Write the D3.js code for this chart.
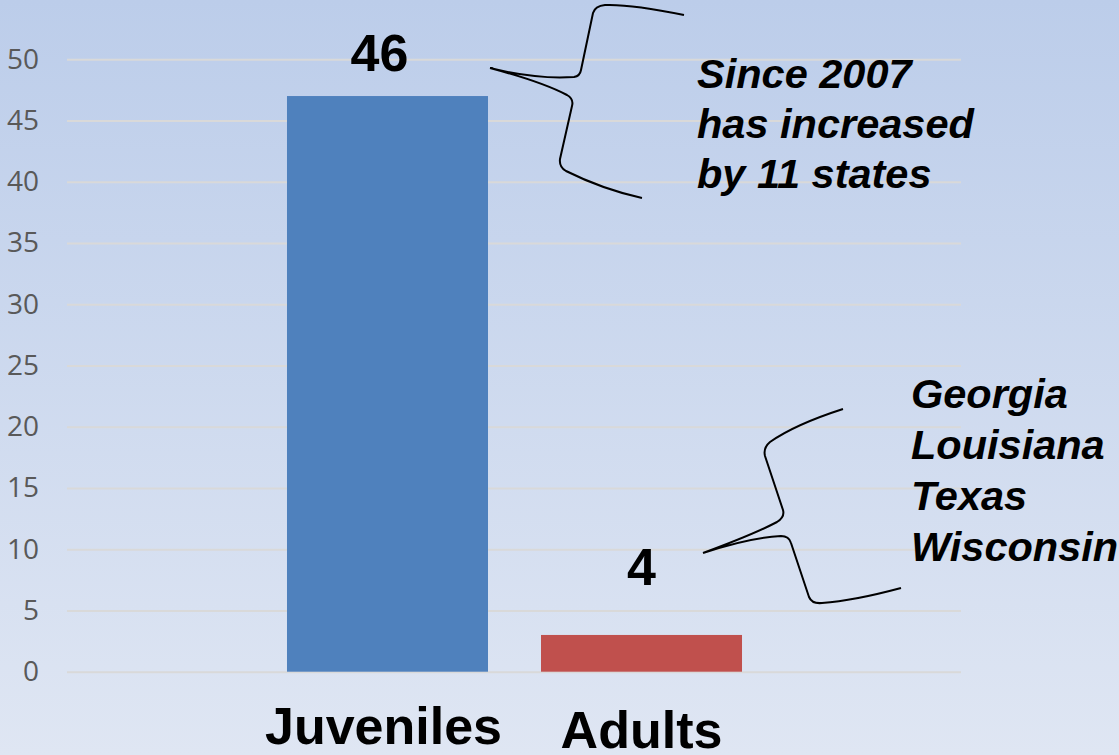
<!DOCTYPE html>
<html>
<head>
<meta charset="utf-8">
<script src="https://cdn.jsdelivr.net/npm/d3@7"></script>
<style>
  html, body { margin: 0; padding: 0; }
  body { width: 1119px; height: 755px; overflow: hidden; }
</style>
</head>
<body>
<div id="chart"></div>
<script>
// data
const categories = ["Juveniles", "Adults"];
const barValues = [47, 3];
const valueLabels = ["46", "4"];
const barColors = ["#4f81bd", "#c0504d"];
const yTicks = [0, 5, 10, 15, 20, 25, 30, 35, 40, 45, 50];
const noteTop = ["Since 2007", "has increased", "by 11 states"];
const noteBottom = ["Georgia", "Louisiana", "Texas", "Wisconsin"];

const width = 1119;
const height = 755;
const gridLeft = 67;
const gridRight = 961;
const textFont = "'Liberation Sans', Arial, sans-serif";

const svg = d3.select("#chart")
    .append("svg")
    .attr("width", width)
    .attr("height", height);

// background gradient
const grad = svg.append("defs").append("linearGradient")
    .attr("id", "bg")
    .attr("x1", 0).attr("y1", 0)
    .attr("x2", 0).attr("y2", 1);
grad.append("stop").attr("offset", "0%").attr("stop-color", "#bccdea");
grad.append("stop").attr("offset", "100%").attr("stop-color", "#dfe6f3");

svg.append("rect")
    .attr("width", width)
    .attr("height", height)
    .attr("fill", "url(#bg)");

const y = d3.scaleLinear()
    .domain([0, 50])
    .range([671.7, 59.3]);

const x = d3.scaleBand()
    .domain(categories)
    .range([260.5, 768.5])
    .paddingInner(0.2087)
    .paddingOuter(0.1043);

// axis + gridlines
const yAxis = d3.axisLeft(y)
    .tickValues(yTicks)
    .tickSize(-(gridRight - gridLeft))
    .tickPadding(28);

const axisG = svg.append("g")
    .attr("transform", `translate(${gridLeft},0)`)
    .call(yAxis);

axisG.select(".domain").remove();
axisG.selectAll(".tick line")
    .attr("stroke", "#d9d9d9")
    .attr("stroke-width", 2);
axisG.selectAll(".tick text")
    .attr("fill", "#595959")
    .style("font-family", "'Open Sans', sans-serif")
    .style("font-size", "28px");

// bars
svg.selectAll("rect.bar")
    .data(categories)
    .enter()
    .append("rect")
    .attr("class", "bar")
    .attr("x", d => x(d))
    .attr("y", (d, i) => y(barValues[i]))
    .attr("width", x.bandwidth())
    .attr("height", (d, i) => y(0) - y(barValues[i]))
    .attr("fill", (d, i) => barColors[i]);

// value labels above bars
svg.selectAll("text.value")
    .data(categories)
    .enter()
    .append("text")
    .attr("class", "value")
    .attr("x", (d, i) => x(d) + x.bandwidth() / 2 + (i === 0 ? -8 : 0))
    .attr("y", (d, i) => y(barValues[i]) - (i === 0 ? 25.5 : 50))
    .attr("text-anchor", "middle")
    .style("font-family", textFont)
    .style("font-weight", "bold")
    .style("font-size", "52px")
    .attr("fill", "#000")
    .text((d, i) => valueLabels[i]);

// category labels
svg.selectAll("text.cat")
    .data(categories)
    .enter()
    .append("text")
    .attr("class", "cat")
    .attr("x", (d, i) => x(d) + x.bandwidth() / 2 + (i === 0 ? -4 : 0))
    .attr("y", (d, i) => i === 0 ? 744 : 748)
    .attr("text-anchor", "middle")
    .style("font-family", textFont)
    .style("font-weight", "bold")
    .style("font-size", "52px")
    .attr("fill", "#000")
    .text(d => d);

// curly braces
const braces = [
    "M490,68 C530,78 560,78 574,77 Q580,76 581,70 L593,13 Q595,6 605,5 C630,4 660,10 684,15" +
    "M490,68 C520,76 550,86 567,95 Q574,99 572,106 L560,159 Q559,167 566,171 C590,183 615,192 642,198",
    "M703,553 C730,543 760,531 777,522 Q785,517 783,510 L765,456 Q763,448 770,442 C790,428 815,418 843,409" +
    "M703,553 C730,544 760,537 781,536 Q789,536 791,543 L809,597 Q812,604 822,603 C850,601 875,595 901,588"
];

svg.selectAll("path.brace")
    .data(braces)
    .enter()
    .append("path")
    .attr("class", "brace")
    .attr("d", d => d)
    .attr("fill", "none")
    .attr("stroke", "#000")
    .attr("stroke-width", 2);

// annotation notes
function drawNote(lines, left, firstBaseline, lineGap) {
    svg.append("g")
        .selectAll("text")
        .data(lines)
        .enter()
        .append("text")
        .attr("x", left)
        .attr("y", (d, i) => firstBaseline + i * lineGap)
        .style("font-family", textFont)
        .style("font-weight", "bold")
        .style("font-style", "italic")
        .style("font-size", "41.5px")
        .attr("fill", "#000")
        .text(d => d);
}

drawNote(noteTop, 697, 88, 50);
drawNote(noteBottom, 911, 408, 51);
</script>
</body>
</html>
